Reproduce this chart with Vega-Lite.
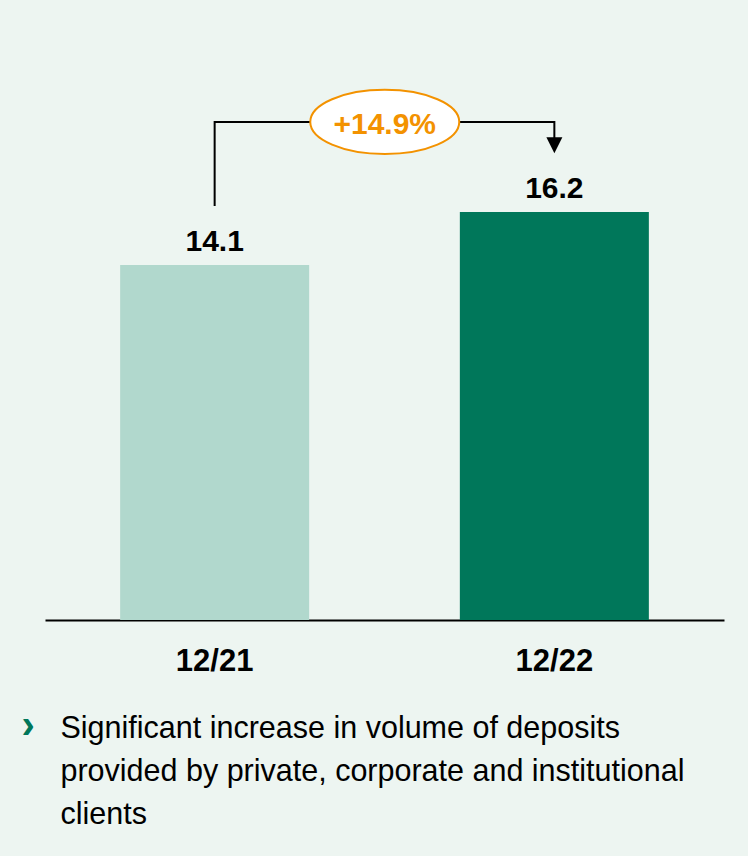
{
  "$schema": "https://vega.github.io/schema/vega-lite/v6.json",
  "width": 679,
  "height": 554,
  "autosize": {"type": "none"},
  "padding": {"left": 45, "top": 66, "right": 24, "bottom": 236},
  "background": "#EDF5F1",
  "config": {"view": {"stroke": null}, "font": "Liberation Sans, Arial, sans-serif"},
  "datasets": {
    "bars": [
      {"period": "12/21", "value": 14.1, "label": "14.1"},
      {"period": "12/22", "value": 16.2, "label": "16.2"}
    ],
    "connector": [
      {"period": "12/21", "value": 16.44, "step": 1},
      {"period": "12/21", "value": 19.78, "step": 2},
      {"period": "12/22", "value": 19.78, "step": 3},
      {"period": "12/22", "value": 19.0, "step": 4}
    ],
    "arrowhead": [{"period": "12/22", "value": 18.85}],
    "growth": [{"period": "12/21", "value": 19.78, "label": "+14.9%"}]
  },
  "encoding": {
    "x": {
      "field": "period", "type": "nominal",
      "scale": {"domain": ["12/21", "12/22"], "paddingInner": 0.4436, "paddingOuter": 0.2212},
      "axis": {
        "labelAngle": 0, "labelFontSize": 31, "labelFontWeight": "bold", "labelColor": "#000000",
        "labelBaseline": "alphabetic", "labelPadding": 50, "ticks": false, "tickSize": 0,
        "domainColor": "#000000", "domainWidth": 2,
        "title": ["Significant increase in volume of deposits", "provided by private, corporate and institutional", "clients"],
        "titleFontSize": 30.5, "titleFontWeight": "normal", "titleColor": "#000000",
        "titleX": 15, "titleY": 117, "titleAlign": "left", "titleBaseline": "alphabetic",
        "titleAnchor": "start", "titleLineHeight": 43
      }
    },
    "y": {
      "field": "value", "type": "quantitative",
      "scale": {"domain": [0, 22], "nice": false},
      "axis": {
        "labels": false, "ticks": false, "domain": false, "grid": false,
        "title": "›", "titleAngle": 0, "titleX": -24, "titleY": 671,
        "titleAlign": "left", "titleBaseline": "alphabetic", "titleColor": "#00775A",
        "titleFontSize": 40, "titleFontWeight": "bold"
      }
    }
  },
  "layer": [
    {
      "data": {"name": "bars"},
      "mark": {"type": "bar"},
      "encoding": {
        "color": {
          "field": "period", "type": "nominal",
          "scale": {"domain": ["12/21", "12/22"], "range": ["#B1D8CD", "#00775A"]},
          "legend": null
        }
      }
    },
    {
      "data": {"name": "bars"},
      "mark": {"type": "text", "baseline": "alphabetic", "dy": -14, "fontSize": 30, "fontWeight": "bold", "color": "#000000"},
      "encoding": {
        "text": {"field": "label"}
      }
    },
    {
      "data": {"name": "connector"},
      "mark": {"type": "line", "color": "#000000", "strokeWidth": 2},
      "encoding": {
        "order": {"field": "step", "type": "quantitative"}
      }
    },
    {
      "data": {"name": "arrowhead"},
      "mark": {"type": "point", "shape": "M -1 -1 L 1 -1 L 0 1 Z", "size": 256, "filled": true, "color": "#000000", "opacity": 1}
    },
    {
      "data": {"name": "growth"},
      "mark": {"type": "point", "shape": "M -1 0 A 1 0.43 0 1 1 1 0 A 1 0.43 0 1 1 -1 0 Z", "size": 22201, "filled": false, "fill": "#FFFFFF", "fillOpacity": 1, "stroke": "#F39200", "strokeWidth": 2, "opacity": 1},
      "encoding": {
        "x": {"field": "period", "type": "nominal", "bandPosition": 1.4}
      }
    },
    {
      "data": {"name": "growth"},
      "mark": {"type": "text", "baseline": "alphabetic", "dy": 12, "fontSize": 30, "fontWeight": "bold", "color": "#F39200"},
      "encoding": {
        "x": {"field": "period", "type": "nominal", "bandPosition": 1.4},
        "text": {"field": "label"}
      }
    }
  ]
}
